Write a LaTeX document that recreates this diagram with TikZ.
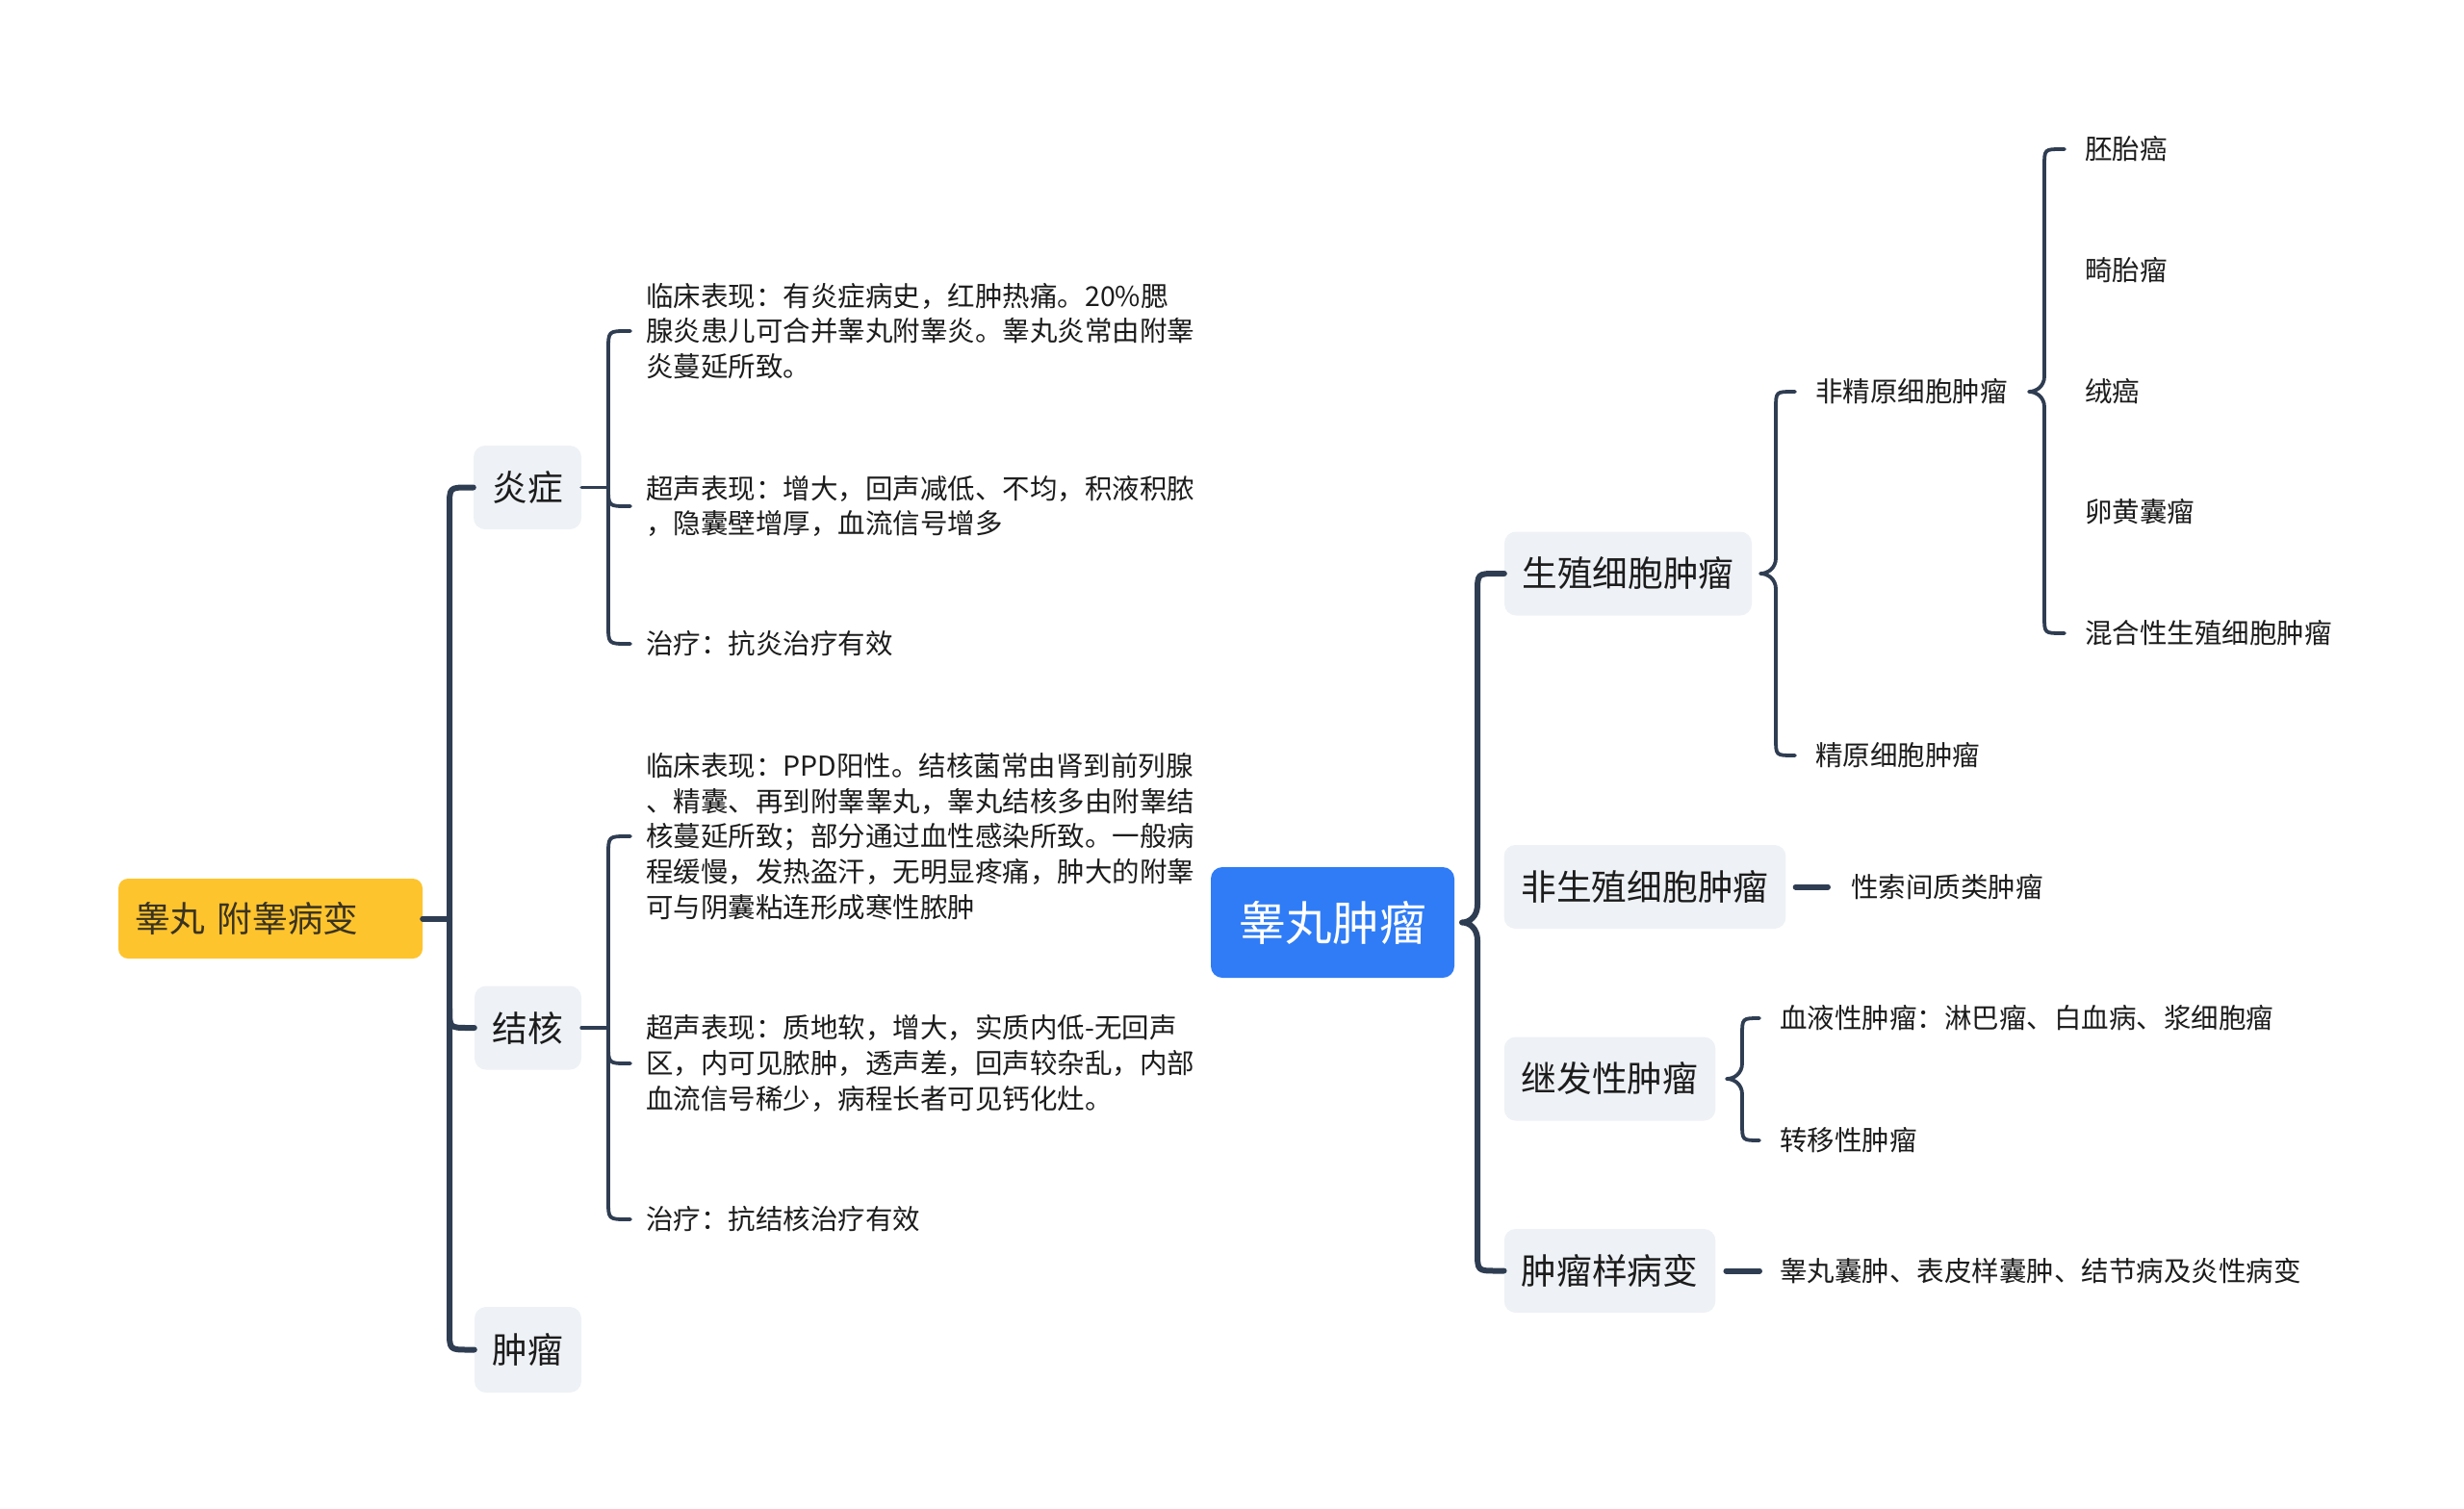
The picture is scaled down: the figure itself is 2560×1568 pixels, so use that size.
\documentclass[tikz,border=0pt]{standalone}
\usepackage{fontspec}
\setmainfont{Noto Sans CJK SC}
\definecolor{lc}{HTML}{2F3D52}
\definecolor{gfill}{HTML}{EEF1F5}
\definecolor{bluebox}{HTML}{2F7CF6}
\definecolor{yelbox}{HTML}{FEC42E}
\definecolor{tx}{HTML}{1C1C1C}
\definecolor{ytx}{HTML}{3A3320}
\tikzset{
  lk/.style={draw=lc, line width=6pt, line cap=round, line join=round},
  lk2/.style={draw=lc, line width=3.8pt, line cap=round, line join=round},
  gbox/.style={fill=gfill, rounded corners=12pt, inner xsep=18pt, inner ysep=0pt, minimum height=87pt, font=\fontsize{36.7}{44}\selectfont, text=tx},
  leaf/.style={anchor=west, inner sep=0pt, align=left, font=\fontsize{28.5}{36.7}\selectfont, text=tx},
}
\begin{document}
\begin{tikzpicture}[x=1pt,y=-1pt]
\useasboundingbox[fill=white] (0,0) rectangle (2560,1568);

% ---------- left tree ----------
\node[fill=yelbox, rounded corners=10pt, text width=282pt, inner xsep=17pt, inner ysep=0pt, minimum height=83pt, align=left, text=ytx, font=\fontsize{36.7}{44}\selectfont] (root) at (281,954.5) {睾丸 附睾病变};

\node[gbox, minimum width=112pt] (yan) at (548,506.5) {炎症};
\node[gbox, minimum width=111pt] (jh) at (548.5,1068) {结核};
\node[gbox, minimum width=111pt, minimum height=89pt] (zl) at (548.5,1402.5) {肿瘤};

\node[leaf] (yl1) at (671,344) {临床表现：有炎症病史，红肿热痛。20\%腮\\腺炎患儿可合并睾丸附睾炎。睾丸炎常由附睾\\炎蔓延所致。};
\node[leaf] (yl2) at (671,526) {超声表现：增大，回声减低、不均，积液积脓\\，隐囊壁增厚，血流信号增多};
\node[leaf] (yl3) at (671,669) {治疗：抗炎治疗有效};

\node[leaf] (jl1) at (671,869) {临床表现：PPD阳性。结核菌常由肾到前列腺\\、精囊、再到附睾睾丸，睾丸结核多由附睾结\\核蔓延所致；部分通过血性感染所致。一般病\\程缓慢，发热盗汗，无明显疼痛，肿大的附睾\\可与阴囊粘连形成寒性脓肿};
\node[leaf] (jl2) at (671,1105) {超声表现：质地软，增大，实质内低-无回声\\区，内可见脓肿，透声差，回声较杂乱，内部\\血流信号稀少，病程长者可见钙化灶。};
\node[leaf] (jl3) at (671,1267) {治疗：抗结核治疗有效};

% left connectors
\draw[lk] (root.east) -- (467,954.5);
\draw[lk] (yan.west) -- (487,506.5) .. controls (467,506.5) .. (467,526.5) -- (467,1382.5) .. controls (467,1402.5) .. (487,1402.5) -- (zl.west);
\draw[lk] (467,1048) .. controls (467,1068) .. (487,1068) -- (jh.west);

\draw[lk2] (yan.east) -- (632,506.5);
\draw[lk2] ([xshift=-16pt]yl1.west) -- (652,344) .. controls (632,344) .. (632,364) -- (632,649) .. controls (632,669) .. (652,669) -- ([xshift=-16pt]yl3.west);
\draw[lk2] (632,506) .. controls (632,526) .. (652,526) -- ([xshift=-16pt]yl2.west);

\draw[lk2] (jh.east) -- (632,1068);
\draw[lk2] ([xshift=-16pt]jl1.west) -- (652,869) .. controls (632,869) .. (632,889) -- (632,1247) .. controls (632,1267) .. (652,1267) -- ([xshift=-16pt]jl3.west);
\draw[lk2] (632,1085) .. controls (632,1105) .. (652,1105) -- ([xshift=-16pt]jl2.west);

% ---------- right tree ----------
\node[fill=bluebox, rounded corners=12pt, minimum width=253pt, minimum height=115pt, inner sep=0pt, text=white, font=\fontsize{48.6}{56}\selectfont] (zw) at (1384.5,958.5) {睾丸肿瘤};

\node[gbox, minimum width=257pt] (sz) at (1691.5,596) {生殖细胞肿瘤};
\node[gbox, minimum width=292pt] (fsz) at (1709,921.5) {非生殖细胞肿瘤};
\node[gbox, minimum width=219pt] (jf) at (1672.5,1121) {继发性肿瘤};
\node[gbox, minimum width=219pt] (zly) at (1672.5,1320.5) {肿瘤样病变};

\node[leaf] (fjy) at (1886,407) {非精原细胞肿瘤};
\node[leaf] (jy) at (1886,785) {精原细胞肿瘤};
\node[leaf] (p1) at (2166,155) {胚胎癌};
\node[leaf] (p2) at (2166,281) {畸胎瘤};
\node[leaf] (p3) at (2166,407) {绒癌};
\node[leaf] (p4) at (2166,532) {卵黄囊瘤};
\node[leaf] (p5) at (2166,658) {混合性生殖细胞肿瘤};
\node[leaf] (xs) at (1923,921.5) {性索间质类肿瘤};
\node[leaf] (xy) at (1849,1058) {血液性肿瘤：淋巴瘤、白血病、浆细胞瘤};
\node[leaf] (zy) at (1849,1185) {转移性肿瘤};
\node[leaf] (nz) at (1849,1320.5) {睾丸囊肿、表皮样囊肿、结节病及炎性病变};

% right trunk brace
\draw[lk] (sz.west) -- (1555,596) .. controls (1535,596) .. (1535,616) -- (1535,940) .. controls (1535,952) and (1527,958.5) .. (1519,958.5) .. controls (1527,958.5) and (1535,965) .. (1535,977) -- (1535,1300.5) .. controls (1535,1320.5) .. (1555,1320.5) -- (zly.west);

% 生殖 brace
\draw[lk2] ([xshift=-21pt]fjy.west) -- (1863,407) .. controls (1845,407) .. (1845,425) -- (1845,580) .. controls (1845,590) and (1837,596) .. (1829,596) .. controls (1837,596) and (1845,602) .. (1845,612) -- (1845,767) .. controls (1845,785) .. (1863,785) -- ([xshift=-21pt]jy.west);

% 非精原 brace
\draw[lk2] ([xshift=-21pt]p1.west) -- (2142,155) .. controls (2124,155) .. (2124,173) -- (2124,391) .. controls (2124,401) and (2116,407) .. (2108,407) .. controls (2116,407) and (2124,413) .. (2124,423) -- (2124,640) .. controls (2124,658) .. (2142,658) -- ([xshift=-21pt]p5.west);

% 继发性 brace
\draw[lk2] ([xshift=-21pt]xy.west) -- (1828,1058) .. controls (1810,1058) .. (1810,1076) -- (1810,1105) .. controls (1810,1115) and (1802,1121) .. (1794,1121) .. controls (1802,1121) and (1810,1127) .. (1810,1137) -- (1810,1167) .. controls (1810,1185) .. (1828,1185) -- ([xshift=-21pt]zy.west);

% dashes
\draw[lk] ([xshift=10pt]fsz.east) -- ([xshift=-24pt]xs.west);
\draw[lk] ([xshift=11pt]zly.east) -- ([xshift=-21pt]nz.west);
\end{tikzpicture}
\end{document}
